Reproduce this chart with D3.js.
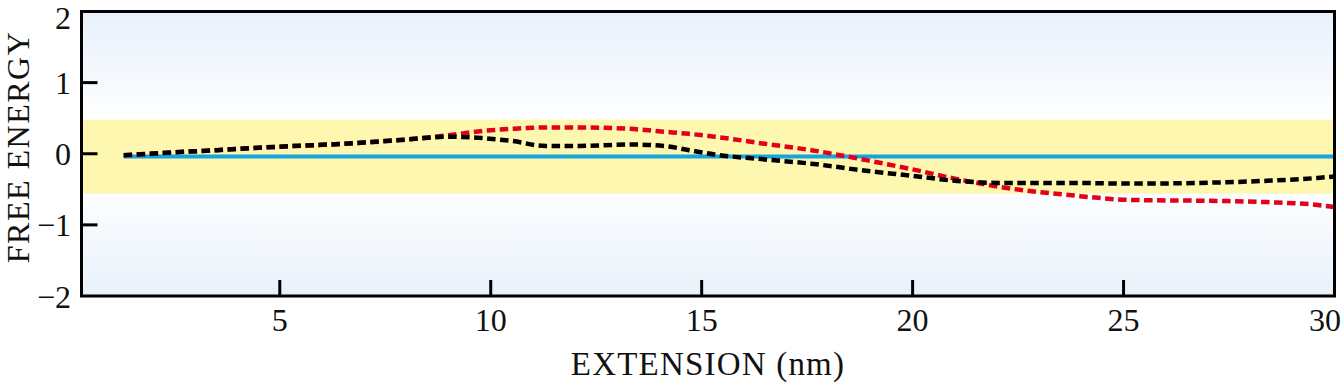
<!DOCTYPE html>
<html>
<head>
<meta charset="utf-8">
<script src="https://cdn.jsdelivr.net/npm/d3@7"></script>
<style>
  html, body { margin: 0; padding: 0; background: #fff; }
  svg { display: block; }
  text { font-family: "Liberation Serif", "Times New Roman", serif; fill: #111; }
</style>
</head>
<body>
<svg id="chart" width="1342" height="385"></svg>
<script>
// extension (nm) sample points
const extension = [1.3, 2.5, 3.5, 5, 6.5, 8, 9, 9.8, 10.5, 11.3, 12.1, 13.3, 14.1, 14.7, 15.3, 16.5, 17.6, 18.9, 20.0, 21.0, 22.1, 23.7, 25.2, 26.8, 28.4, 29.6, 30];
const redEnergy = [-0.02, 0.02, 0.05, 0.10, 0.14, 0.20, 0.26, 0.32, 0.35, 0.37, 0.37, 0.35, 0.31, 0.28, 0.24, 0.14, 0.05, -0.09, -0.22, -0.35, -0.47, -0.58, -0.65, -0.66, -0.68, -0.72, -0.75];
const blackEnergy = [-0.02, 0.02, 0.05, 0.10, 0.14, 0.20, 0.24, 0.22, 0.18, 0.11, 0.11, 0.13, 0.11, 0.05, -0.01, -0.08, -0.14, -0.24, -0.31, -0.38, -0.41, -0.41, -0.42, -0.41, -0.38, -0.34, -0.32];
const blueLevel = [[1.3, -0.04], [30, -0.04]];
const band = [-0.56, 0.48];
const xTicks = [5, 10, 15, 20, 25, 30];
const yTicks = [-2, -1, 0, 1, 2];

const svg = d3.select("#chart");
const plotL = 81.5, plotR = 1334.5, plotT = 11.5, plotB = 296;

const x = d3.scaleLinear().domain([0.3, 30]).range([plotL, plotR]);
const y = d3.scaleLinear().domain([-2, 2]).range([plotB, plotT]);

// background gradient, light blue at edges, white in the middle
const grad = svg.append("defs").append("linearGradient")
    .attr("id", "bg").attr("x1", 0).attr("y1", 0).attr("x2", 0).attr("y2", 1);
grad.append("stop").attr("offset", "0%").attr("stop-color", "#e8f1fb");
grad.append("stop").attr("offset", "40%").attr("stop-color", "#ffffff");
grad.append("stop").attr("offset", "60%").attr("stop-color", "#ffffff");
grad.append("stop").attr("offset", "100%").attr("stop-color", "#e8f1fb");

svg.append("rect")
    .attr("x", plotL).attr("y", plotT)
    .attr("width", plotR - plotL).attr("height", plotB - plotT)
    .attr("fill", "url(#bg)");

svg.append("rect")
    .attr("x", plotL).attr("y", y(band[1]))
    .attr("width", plotR - plotL).attr("height", y(band[0]) - y(band[1]))
    .attr("fill", "#fdf7b0");

const line = d3.line()
    .x(d => x(d[0]))
    .y(d => y(d[1]))
    .curve(d3.curveMonotoneX);

svg.append("path")
    .datum(blueLevel)
    .attr("d", line)
    .attr("fill", "none")
    .attr("stroke", "#14a4de")
    .attr("stroke-width", 4);

svg.append("path")
    .datum(d3.zip(extension, redEnergy))
    .attr("d", line)
    .attr("fill", "none")
    .attr("stroke", "#e2001a")
    .attr("stroke-width", 4.5)
    .attr("stroke-dasharray", "8.5,4.5");

svg.append("path")
    .datum(d3.zip(extension, blackEnergy))
    .attr("d", line)
    .attr("fill", "none")
    .attr("stroke", "#000")
    .attr("stroke-width", 4.5)
    .attr("stroke-dasharray", "8.5,4.5");

// inward ticks
const tickLen = 16;
svg.append("g").selectAll("line")
    .data(xTicks.filter(d => d < 30))
    .join("line")
    .attr("x1", d => x(d)).attr("x2", d => x(d))
    .attr("y1", plotB).attr("y2", plotB - tickLen)
    .attr("stroke", "#000").attr("stroke-width", 3);

svg.append("g").selectAll("line")
    .data(yTicks.filter(d => d > -2 && d < 2))
    .join("line")
    .attr("x1", plotL).attr("x2", plotL + tickLen)
    .attr("y1", d => y(d)).attr("y2", d => y(d))
    .attr("stroke", "#000").attr("stroke-width", 3);

// frame
svg.append("rect")
    .attr("x", plotL).attr("y", plotT)
    .attr("width", plotR - plotL).attr("height", plotB - plotT)
    .attr("fill", "none")
    .attr("stroke", "#000")
    .attr("stroke-width", 3);

const fmt = d3.format("d");

// last label is pulled in so it stays on the page
svg.append("g").selectAll("text")
    .data(xTicks)
    .join("text")
    .attr("x", d => d === 30 ? 1341 : x(d))
    .attr("y", 331)
    .attr("text-anchor", d => d === 30 ? "end" : "middle")
    .style("font-size", "32px")
    .text(fmt);

// top label nudged down a little so its box stays inside
svg.append("g").selectAll("text")
    .data(yTicks)
    .join("text")
    .attr("x", 71)
    .attr("y", d => Math.max(y(d) + 11.5, 29))
    .attr("text-anchor", "end")
    .style("font-size", "32px")
    .text(fmt);

svg.append("text")
    .attr("x", (plotL + plotR) / 2)
    .attr("y", 375)
    .attr("text-anchor", "middle")
    .style("font-size", "33px")
    .style("letter-spacing", "1.2px")
    .text("EXTENSION (nm)");

svg.append("text")
    .attr("transform", "translate(29,147) rotate(-90)")
    .attr("text-anchor", "middle")
    .style("font-size", "32px")
    .style("letter-spacing", "1.5px")
    .text("FREE ENERGY");
</script>
</body>
</html>
